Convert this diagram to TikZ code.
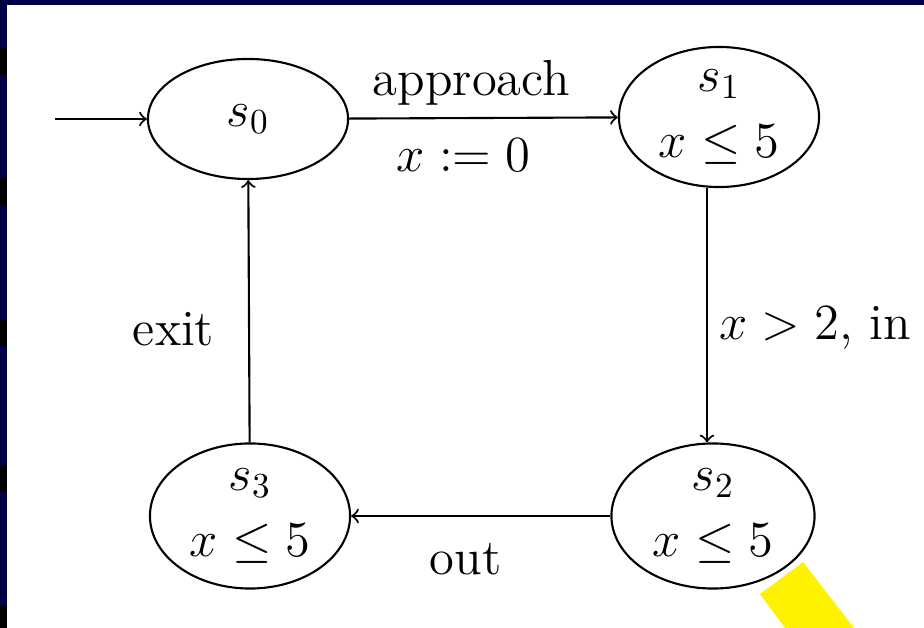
\documentclass[tikz,border=0pt]{standalone}
\usetikzlibrary{shapes.geometric}
\definecolor{slidenavy}{RGB}{0,0,70}
\begin{document}
\begin{tikzpicture}[
  x=0.01cm, y=-0.01cm,
  every node/.style={font=\Large},
  state/.style={ellipse, draw, line width=0.6pt, minimum width=2.0cm, minimum height=1.45cm, inner sep=0pt, align=center},
  trans/.style={->, line width=0.6pt},
]

% slide frame
\useasboundingbox (0,0) rectangle (924,628);
\fill[slidenavy] (0,0) rectangle (924,628);
\fill[white] (7,5) rectangle (924,628);
\foreach \ya/\yb in {48/75, 178/205, 320/346, 465/492, 606/628}
  \fill[black] (0,\ya) rectangle (7,\yb);
\fill[yellow] (760,594) -- (803,562) -- (854,628) -- (785,628) -- cycle;

% states
\node[state, minimum height=1.2cm] (s0) at (248,119) {$s_0$};
\node[state, minimum height=1.4cm] (s1) at (719,117) {$s_1$\\[1pt]$x \le 5$};
\node[state, minimum width=2.03cm] (s2) at (713,516) {$s_2$\\[1pt]$x \le 5$};
\node[state] (s3) at (250,516) {$s_3$\\[1pt]$x \le 5$};
\coordinate (init) at (55,119);

% transitions
\draw[trans] (init) -- (s0);
\draw[trans] (s0) -- node[above, xshift=-0.12cm] (lapp) {approach} node[below=0.08cm, xshift=-0.2cm] (lreset) {$x := 0$} (s1);
\draw[trans] (s1.south -| 707,0) -- node[right, pos=0.55] (lin) {$x > 2$, in} (s2.north -| 707,0);
\draw[trans] (s2) -- node[below=0.15cm, xshift=-0.15cm] (lout) {out} (s3);
\draw[trans] (s3) -- node[left=0.22cm, pos=0.43] (lexit) {exit} (s0);

\end{tikzpicture}
\end{document}
